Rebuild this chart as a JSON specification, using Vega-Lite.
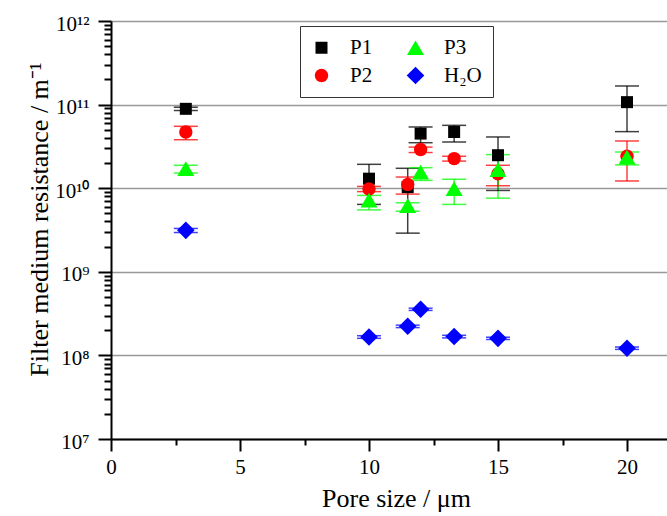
{
  "$schema": "https://vega.github.io/schema/vega-lite/v6.json",
  "width": 556,
  "height": 418,
  "autosize": {"type": "none"},
  "padding": {"left": 111, "top": 21, "right": 0, "bottom": 77},
  "background": "white",
  "config": {
    "view": {"stroke": null},
    "font": "Liberation Serif"
  },
  "data": {
    "values": [
      {"series": "P1", "x": 2.9, "y": 8.9e10, "lo": 8.5e10, "hi": 9.3e10},
      {"series": "P1", "x": 10, "y": 1.30e10, "lo": 6.4e9, "hi": 1.93e10},
      {"series": "P1", "x": 11.5, "y": 1.03e10, "lo": 2.9e9, "hi": 1.73e10},
      {"series": "P1", "x": 12, "y": 4.5e10, "lo": 3.5e10, "hi": 5.4e10},
      {"series": "P1", "x": 13.3, "y": 4.7e10, "lo": 3.57e10, "hi": 5.65e10},
      {"series": "P1", "x": 15, "y": 2.48e10, "lo": 9.4e9, "hi": 4.1e10},
      {"series": "P1", "x": 20, "y": 1.07e11, "lo": 4.75e10, "hi": 1.67e11},
      {"series": "P2", "x": 2.9, "y": 4.7e10, "lo": 3.8e10, "hi": 5.5e10},
      {"series": "P2", "x": 10, "y": 9.8e9, "lo": 9.1e9, "hi": 1.05e10},
      {"series": "P2", "x": 11.5, "y": 1.11e10, "lo": 8.5e9, "hi": 1.36e10},
      {"series": "P2", "x": 12, "y": 2.9e10, "lo": 2.67e10, "hi": 3.1e10},
      {"series": "P2", "x": 13.3, "y": 2.26e10, "lo": 2.11e10, "hi": 2.41e10},
      {"series": "P2", "x": 15, "y": 1.49e10, "lo": 1.07e10, "hi": 1.88e10},
      {"series": "P2", "x": 20, "y": 2.41e10, "lo": 1.22e10, "hi": 3.67e10},
      {"series": "P3", "x": 2.9, "y": 1.72e10, "lo": 1.52e10, "hi": 1.88e10},
      {"series": "P3", "x": 10, "y": 7.2e9, "lo": 5.5e9, "hi": 8.2e9},
      {"series": "P3", "x": 11.5, "y": 6.2e9, "lo": 5.3e9, "hi": 6.7e9},
      {"series": "P3", "x": 12, "y": 1.56e10, "lo": 1.24e10, "hi": 1.76e10},
      {"series": "P3", "x": 13.3, "y": 9.9e9, "lo": 6.4e9, "hi": 1.28e10},
      {"series": "P3", "x": 15, "y": 1.67e10, "lo": 7.6e9, "hi": 2.52e10},
      {"series": "P3", "x": 20, "y": 2.36e10, "lo": 1.9e10, "hi": 2.71e10},
      {"series": "H₂O", "x": 2.9, "y": 3.13e9, "lo": 2.95e9, "hi": 3.3e9},
      {"series": "H₂O", "x": 10, "y": 1.66e8, "lo": 1.6e8, "hi": 1.72e8},
      {"series": "H₂O", "x": 11.5, "y": 2.23e8, "lo": 2.15e8, "hi": 2.3e8},
      {"series": "H₂O", "x": 12, "y": 3.56e8, "lo": 3.45e8, "hi": 3.67e8},
      {"series": "H₂O", "x": 13.3, "y": 1.68e8, "lo": 1.62e8, "hi": 1.74e8},
      {"series": "H₂O", "x": 15, "y": 1.60e8, "lo": 1.55e8, "hi": 1.65e8},
      {"series": "H₂O", "x": 20, "y": 1.22e8, "lo": 1.18e8, "hi": 1.26e8}
    ]
  },
  "encoding": {
    "x": {
      "field": "x",
      "type": "quantitative",
      "scale": {"domain": [0, 21.55], "nice": false, "zero": false},
      "axis": {
        "values": [0, 2.5, 5, 7.5, 10, 12.5, 15, 17.5, 20],
        "labelExpr": "datum.value % 5 == 0 ? format(datum.value, 'd') : ''",
        "labelFlush": false,
        "labelOverlap": false,
        "grid": false,
        "domainColor": "black",
        "domainWidth": 2,
        "tickColor": "black",
        "tickWidth": 2,
        "tickSize": {"condition": {"test": "datum.value % 5 == 0", "value": 12}, "value": 6},
        "labelFont": "Liberation Serif",
        "labelFontSize": 21,
        "labelColor": "black",
        "labelPadding": 5,
        "title": "Pore size / μm",
        "titleFont": "Liberation Serif",
        "titleFontSize": 26,
        "titleFontWeight": "normal",
        "titleColor": "black",
        "titleX": 285,
        "titleY": 67,
        "titleAlign": "center",
        "titleBaseline": "alphabetic"
      }
    },
    "y": {
      "field": "y",
      "type": "quantitative",
      "scale": {"type": "log", "domain": [1e7, 1e12], "nice": false},
      "axis": {
        "values": [1e7, 2e7, 3e7, 4e7, 5e7, 6e7, 7e7, 8e7, 9e7, 1e8, 2e8, 3e8, 4e8, 5e8, 6e8, 7e8, 8e8, 9e8, 1e9, 2e9, 3e9, 4e9, 5e9, 6e9, 7e9, 8e9, 9e9, 1e10, 2e10, 3e10, 4e10, 5e10, 6e10, 7e10, 8e10, 9e10, 1e11, 2e11, 3e11, 4e11, 5e11, 6e11, 7e11, 8e11, 9e11, 1e12],
        "labelExpr": "abs(log(datum.value)/LN10 - round(log(datum.value)/LN10)) < 1e-6 ? '10' + ['⁰','¹','²','³','⁴','⁵','⁶','⁷','⁸','⁹','¹⁰','¹¹','¹²'][round(log(datum.value)/LN10)] : ''",
        "labelFlush": false,
        "labelOverlap": false,
        "grid": true,
        "gridColor": "#999999",
        "gridWidth": 1.3,
        "gridOpacity": {"condition": {"test": "abs(log(datum.value)/LN10 - round(log(datum.value)/LN10)) < 1e-6", "value": 1}, "value": 0},
        "domainColor": "black",
        "domainWidth": 2,
        "tickColor": "black",
        "tickWidth": 2,
        "tickSize": {"condition": {"test": "abs(log(datum.value)/LN10 - round(log(datum.value)/LN10)) < 1e-6", "value": 13}, "value": 7},
        "labelFont": "Liberation Serif",
        "labelFontSize": 21,
        "labelColor": "black",
        "labelPadding": 9,
        "labelOffset": 3,
        "title": "Filter medium resistance / m⁻¹",
        "titleFont": "Liberation Serif",
        "titleFontSize": 26,
        "titleFontWeight": "normal",
        "titleColor": "black",
        "titleX": -64,
        "titleY": 198,
        "titleAlign": "center",
        "titleBaseline": "alphabetic",
        "titleAngle": -90
      }
    },
    "color": {
      "field": "series",
      "type": "nominal",
      "scale": {"domain": ["P1", "P2", "P3", "H₂O"], "range": ["#000000", "#ff0000", "#00ff00", "#0000ff"]},
      "legend": {
        "orient": "none",
        "legendX": 189,
        "legendY": 5,
        "columns": 2,
        "title": null,
        "strokeColor": "#333333",
        "fillColor": "white",
        "padding": 11,
        "rowPadding": 6,
        "columnPadding": 32,
        "labelOffset": 18,
        "labelFont": "Liberation Serif",
        "labelFontSize": 21,
        "labelColor": "black",
        "symbolStrokeWidth": 0,
        "symbolOpacity": 1
      }
    }
  },
  "layer": [
    {
      "mark": {"type": "rule", "strokeWidth": 1.5, "opacity": 0.75},
      "encoding": {
        "y": {"field": "lo", "type": "quantitative"},
        "y2": {"field": "hi"}
      }
    },
    {
      "mark": {"type": "tick", "orient": "horizontal", "size": 24, "thickness": 1.5, "opacity": 0.75},
      "encoding": {
        "y": {"field": "lo", "type": "quantitative"}
      }
    },
    {
      "mark": {"type": "tick", "orient": "horizontal", "size": 24, "thickness": 1.5, "opacity": 0.75},
      "encoding": {
        "y": {"field": "hi", "type": "quantitative"}
      }
    },
    {
      "mark": {"type": "point", "filled": true, "opacity": 1, "strokeWidth": 0},
      "encoding": {
        "shape": {
          "field": "series",
          "type": "nominal",
          "scale": {"domain": ["P1", "P2", "P3", "H₂O"], "range": ["square", "circle", "triangle-up", "diamond"]}
        },
        "size": {
          "field": "series",
          "type": "nominal",
          "scale": {"type": "ordinal", "domain": ["P1", "P2", "P3", "H₂O"], "range": [144, 180, 290, 310]}
        }
      }
    },
    {
      "data": {"values": [{}]},
      "mark": {"type": "rule", "strokeWidth": 2.5, "color": "black"},
      "encoding": {"y": {"datum": 1e12}, "x": {"datum": 0}, "x2": {"datum": 21.55}, "color": {"value": "black"}}
    }
  ]
}
